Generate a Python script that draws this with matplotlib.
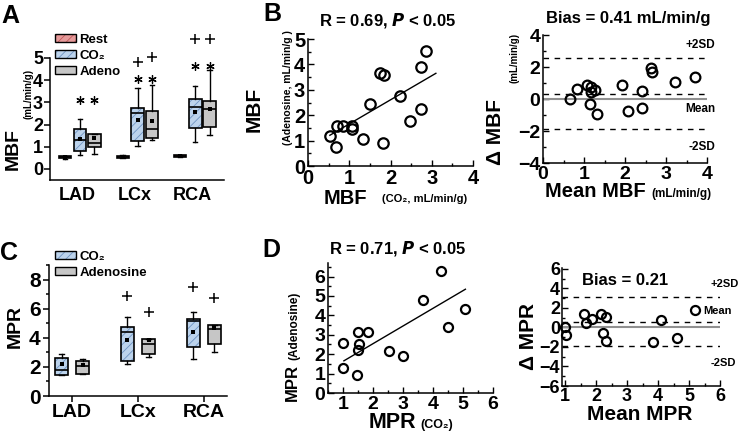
import numpy as np
import matplotlib
matplotlib.use("Agg")
import matplotlib.pyplot as plt
from matplotlib.patches import PathPatch, Patch
from matplotlib.ticker import MultipleLocator

plt.rcParams["font.family"] = ["Liberation Sans", "DejaVu Sans"]
plt.rcParams["font.weight"] = "bold"
plt.rcParams["hatch.linewidth"] = 0.6

# ---------------- data ----------------
regions = ["LAD", "LCx", "RCA"]

# box stats per region: whisker low, Q1, median, Q3, whisker high, mean
mbf_rest = [[0.45, 0.47, 0.52, 0.57, 0.58, 0.52],
            [0.47, 0.50, 0.55, 0.60, 0.62, 0.55],
            [0.52, 0.53, 0.57, 0.61, 0.62, 0.57]]
mbf_co2 = [[0.64, 0.82, 1.31, 1.78, 2.24, 1.36],
           [1.02, 1.25, 2.50, 2.75, 3.65, 2.21],
           [1.23, 1.84, 2.79, 3.13, 3.75, 2.56]]
mbf_aden = [[0.66, 0.98, 1.15, 1.59, 1.59, 1.40],
            [1.32, 1.38, 1.82, 2.60, 3.80, 2.18],
            [1.54, 1.87, 2.68, 3.04, 4.47, 2.72]]
mbf_star = [3.10, 4.05, 4.64]
mbf_plus_co2 = [np.nan, 4.82, 5.85]
mbf_plus_aden = [np.nan, 5.05, 5.85]

mpr_co2 = [[1.47, 1.47, 1.77, 2.63, 2.88, 2.19],
           [2.19, 2.40, 4.42, 4.72, 5.46, 3.85],
           [2.52, 3.39, 5.12, 5.28, 5.77, 4.43]]
mpr_aden = [[1.54, 1.54, 2.05, 2.42, 2.53, 2.12],
            [2.70, 2.88, 3.57, 3.92, 3.92, 3.85],
            [3.02, 3.58, 4.61, 4.89, 4.89, 4.70]]
mpr_plus_co2 = [np.nan, 6.89, 7.47]
mpr_plus_aden = [np.nan, 5.80, 6.73]

# B: MBF correlation
mbf_x = [0.53, 0.68, 0.71, 0.86, 1.06, 1.06, 1.33, 1.51, 1.74, 1.85, 1.81, 2.23, 2.47, 2.73, 2.73, 2.86]
mbf_y = [1.20, 0.75, 1.57, 1.57, 1.57, 1.44, 1.06, 2.44, 3.68, 3.59, 0.91, 2.76, 1.77, 2.23, 3.88, 4.51]
mbf_fit = [0.949, 0.707]          # slope, intercept
mbf_fit_range = [0.53, 3.1]

# B: Bland-Altman MBF
ba_mbf_mean = [0.65, 0.82, 1.08, 1.17, 1.18, 1.14, 1.28, 1.32, 1.92, 2.08, 2.42, 2.42, 2.63, 2.65, 3.22, 3.71]
ba_mbf_diff = [0.02, 0.64, 0.89, 0.73, 0.42, -0.29, 0.54, -0.91, 0.89, -0.77, 0.48, -0.56, 1.93, 1.66, 1.06, 1.37]
ba_mbf_lines = [2.55, 0.33, -1.87]   # +2SD, mean, -2SD

# D: MPR correlation
mpr_x = [1.00, 1.01, 1.48, 1.51, 1.54, 1.50, 1.82, 2.52, 2.99, 3.68, 4.27, 4.50, 5.06]
mpr_y = [2.57, 1.29, 0.91, 3.12, 2.52, 2.20, 3.12, 2.18, 1.89, 4.77, 6.30, 3.40, 4.32]
mpr_fit = [0.911, 0.72]
mpr_fit_range = [1.03, 5.08]

# D: Bland-Altman MPR
ba_mpr_mean = [1.00, 1.03, 1.62, 1.68, 1.86, 2.16, 2.32, 2.22, 2.32, 3.85, 4.10, 4.60, 5.19]
ba_mpr_diff = [0.07, -0.78, 1.36, 0.48, 0.82, 1.43, 1.09, -0.61, -1.36, -1.46, 0.75, -1.05, 1.77]
ba_mpr_lines = [3.13, 0.58, -1.88]

c_rest, h_rest = "#e69a9a", "#c05a5a"
c_co2, h_co2 = "#bcd3ec", "#6f94c2"
c_aden = "#c6c6c6"

# ---------------- helpers ----------------
W, H = 740, 436
fig = plt.figure(figsize=(W / 100, H / 100), dpi=100)


def fx(x):
    return x / W


def fy(y):
    return 1 - y / H


def axes_px(left, top, right, bottom):
    return fig.add_axes([left / W, 1 - bottom / H, (right - left) / W, (bottom - top) / H])


def boxes(ax, rows, pos, width, face, hatch=None, hcol=None):
    st = [dict(whislo=r[0], q1=r[1], med=r[2], q3=r[3], whishi=r[4], mean=r[5], fliers=[]) for r in rows]
    b = ax.bxp(st, positions=pos, widths=width, patch_artist=True, showmeans=True,
               showfliers=False, capwidths=width * 0.35, manage_ticks=False,
               medianprops=dict(color="k", lw=1.2),
               meanprops=dict(marker="s", ms=2.5, mew=0, mfc="k"),
               whiskerprops=dict(color="k", lw=1), capprops=dict(color="k", lw=1),
               boxprops=dict(lw=0))
    for p in b["boxes"]:
        p.set_facecolor(face)
        if hatch:
            p.set_hatch(hatch)
            p.set_edgecolor(hcol)
        ax.add_patch(PathPatch(p.get_path(), fc="none", ec="k", lw=1.2, zorder=2.05))


def legend_handle(face, hatch=None, hcol=None):
    if hatch:
        return (Patch(fc=face, ec=hcol, hatch=hatch, lw=0), Patch(fc="none", ec="k", lw=1))
    return Patch(fc=face, ec="k", lw=1)


def clean(ax):
    ax.spines["top"].set_visible(False)
    ax.spines["right"].set_visible(False)
    for s in ("left", "bottom"):
        ax.spines[s].set_linewidth(1.1)


def bold_ticks(ax):
    for t in ax.get_xticklabels() + ax.get_yticklabels():
        t.set_fontweight("bold")


def vtext(x, y, s, size):
    fig.text(fx(x), fy(y), s, rotation=90, ha="center", va="center", fontsize=size, fontweight="bold")


def htext(x, y, s, size, **kw):
    fig.text(fx(x), fy(y), s, ha="center", va="center", fontsize=size, fontweight="bold", **kw)


grp = np.arange(1, 4)

# ---------------- A ----------------
axA = axes_px(50, 58, 224, 180)
clean(axA)
boxes(axA, mbf_rest, grp - 0.26, 0.21, c_rest, "////", h_rest)
boxes(axA, mbf_co2, grp, 0.22, c_co2, "////", h_co2)
boxes(axA, mbf_aden, grp + 0.25, 0.22, c_aden)
axA.plot(grp, mbf_star, ls="none", marker=(6, 2, 0), ms=6, mew=0.9, color="k", clip_on=False)
axA.plot(grp + 0.25, mbf_star, ls="none", marker=(6, 2, 0), ms=6, mew=0.9, color="k", clip_on=False)
axA.plot(grp, mbf_plus_co2, ls="none", marker="+", ms=7, mew=1.1, color="k", clip_on=False)
axA.plot(grp + 0.25, mbf_plus_aden, ls="none", marker="+", ms=7, mew=1.1, color="k", clip_on=False)
axA.set_xlim(0.48, 3.5)
axA.set_ylim(-0.5, 5)
axA.set_yticks(range(6))
axA.set_xticks(grp - 0.05, regions)
axA.tick_params(axis="x", length=0, pad=5, labelsize=13)
axA.tick_params(axis="y", direction="out", length=4, width=1.1, labelsize=13, pad=1)
bold_ticks(axA)
axA.legend([legend_handle(c_rest, "////", h_rest), legend_handle(c_co2, "////", h_co2),
            legend_handle(c_aden)], ["Rest", "CO₂", "Adeno"],
           loc="upper left", bbox_to_anchor=(fx(55), fy(34)), bbox_transform=fig.transFigure,
           frameon=False, fontsize=9.5, handlelength=1.6, handleheight=0.55,
           handletextpad=0.25, labelspacing=0.3, borderpad=0, borderaxespad=0)
vtext(13, 149, "MBF", 14)
vtext(29, 94, "(mL/min/g)", 7)

# ---------------- B scatter ----------------
axB = axes_px(308, 39, 473, 166)
clean(axB)
axB.plot(mbf_x, mbf_y, "o", mfc="none", mec="k", mew=1.6, ms=7.5, clip_on=False)
fx_b = np.array(mbf_fit_range)
axB.plot(fx_b, np.polyval(mbf_fit, fx_b), color="k", lw=1)
axB.set_xlim(0, 4)
axB.set_ylim(0, 5)
axB.set_xticks(range(5))
axB.set_yticks(range(6))
axB.xaxis.set_minor_locator(MultipleLocator(0.5))
axB.yaxis.set_minor_locator(MultipleLocator(0.5))
axB.tick_params(which="both", direction="in", width=1, labelsize=14.5, pad=2)
axB.tick_params(which="major", length=4)
axB.tick_params(which="minor", length=2)
bold_ticks(axB)
htext(388, 20, "R = 0.69, $\\bfit{P}$ < 0.05", 12)
vtext(254, 109, "MBF", 15)
vtext(288, 88, "(Adenosine, mL/min/g )", 7.5)
htext(345, 198, "MBF", 14.5)
htext(425, 199, "(CO₂, mL/min/g)", 8)

# ---------------- B Bland-Altman ----------------
axC = axes_px(543, 35, 707, 163)
clean(axC)
axC.plot(ba_mbf_mean, ba_mbf_diff, "o", mfc="none", mec="k", mew=1.6, ms=7, zorder=3)
axC.axhline(0, color="#909090", lw=1.5)
for v in ba_mbf_lines:
    axC.axhline(v, color="k", lw=1, ls=(0, (4, 4)))
axC.set_xlim(0, 4)
axC.set_ylim(-4, 4)
axC.set_xticks(range(5))
axC.set_yticks([-4, -2, 0, 2, 4])
axC.xaxis.set_minor_locator(MultipleLocator(0.5))
axC.yaxis.set_minor_locator(MultipleLocator(1))
axC.tick_params(which="both", direction="in", width=1, labelsize=14, pad=2)
axC.tick_params(which="major", length=4)
axC.tick_params(which="minor", length=2)
bold_ticks(axC)
axC.text(4.2, 3.39, "+2SD", ha="right", va="center", fontsize=8.5, clip_on=False)
axC.text(4.2, -0.62, "Mean", ha="right", va="center", fontsize=8.5, clip_on=False)
axC.text(4.2, -3.0, "-2SD", ha="right", va="center", fontsize=8.5, clip_on=False)
htext(628, 19, "Bias = 0.41 mL/min/g", 12)
vtext(495, 132, "Δ MBF", 15)
vtext(514, 58, "(mL/min/g)", 7)
htext(595, 191, "Mean MBF", 14.5)
htext(681, 194, "(mL/min/g)", 8.5)

# ---------------- C ----------------
axD = axes_px(49, 265, 227, 396)
clean(axD)
boxes(axD, mpr_co2, grp - 0.16, 0.2, c_co2, "////", h_co2)
boxes(axD, mpr_aden, grp + 0.16, 0.2, c_aden)
axD.plot(grp - 0.16, mpr_plus_co2, ls="none", marker="+", ms=7, mew=1.1, color="k", clip_on=False)
axD.plot(grp + 0.16, mpr_plus_aden, ls="none", marker="+", ms=7, mew=1.1, color="k", clip_on=False)
axD.set_xlim(0.65, 3.35)
axD.set_ylim(0, 9)
axD.set_yticks([0, 2, 4, 6, 8])
axD.yaxis.set_minor_locator(MultipleLocator(1))
axD.set_xticks(grp, regions)
axD.tick_params(which="both", direction="out", width=1.1, labelsize=15, pad=2)
axD.tick_params(which="major", length=4)
axD.tick_params(which="minor", length=2)
axD.tick_params(axis="x", labelsize=14)
bold_ticks(axD)
axD.legend([legend_handle(c_co2, "////", h_co2), legend_handle(c_aden)], ["CO₂", "Adenosine"],
           loc="upper left", bbox_to_anchor=(fx(55), fy(251)), bbox_transform=fig.transFigure,
           frameon=False, fontsize=9.5, handlelength=1.6, handleheight=0.55,
           handletextpad=0.25, labelspacing=0.3, borderpad=0, borderaxespad=0)
vtext(15, 326, "MPR", 14)

# ---------------- D scatter ----------------
axE = axes_px(328, 263, 493, 393)
clean(axE)
axE.plot(mpr_x, mpr_y, "o", mfc="none", mec="k", mew=1.6, ms=6.5, clip_on=False)
fx_d = np.array(mpr_fit_range)
axE.plot(fx_d, np.polyval(mpr_fit, fx_d), color="k", lw=1)
axE.set_xlim(0.5, 6)
axE.set_ylim(0, 6.7)
axE.set_xticks(range(1, 7))
axE.set_yticks(range(7))
axE.xaxis.set_minor_locator(MultipleLocator(0.5))
axE.yaxis.set_minor_locator(MultipleLocator(0.5))
axE.tick_params(which="both", direction="in", width=1, labelsize=14, pad=2)
axE.tick_params(which="major", length=4)
axE.tick_params(which="minor", length=2)
bold_ticks(axE)
htext(398, 248, "R = 0.71, $\\bfit{P}$ < 0.05", 12)
vtext(292, 382, "MPR", 12)
vtext(294, 326, "(Adenosine)", 8.5)
htext(392, 422, "MPR", 15.5)
htext(437, 425, "(CO₂)", 9)

# ---------------- D Bland-Altman ----------------
axF = axes_px(562, 268, 720, 386)
clean(axF)
axF.plot(ba_mpr_mean, ba_mpr_diff, "o", mfc="none", mec="k", mew=1.6, ms=6.5, zorder=3, clip_on=False)
axF.axhline(0, color="#909090", lw=1.5)
for v in ba_mpr_lines:
    axF.axhline(v, color="k", lw=1, ls=(0, (4, 4)))
axF.set_xlim(0.9, 6)
axF.set_ylim(-6, 6.1)
axF.set_xticks(range(1, 7))
axF.set_yticks(range(-6, 7, 2))
axF.xaxis.set_minor_locator(MultipleLocator(0.5))
axF.yaxis.set_minor_locator(MultipleLocator(1))
axF.tick_params(which="both", direction="in", width=1, labelsize=13, pad=1.5)
axF.tick_params(which="major", length=4)
axF.tick_params(which="minor", length=2)
bold_ticks(axF)
axF.text(5.7, 4.42, "+2SD", ha="left", va="center", fontsize=8, clip_on=False)
axF.text(5.46, 1.67, "Mean", ha="left", va="center", fontsize=8, clip_on=False)
axF.text(5.7, -3.67, "-2SD", ha="left", va="center", fontsize=8, clip_on=False)
axF.text(2.94, 4.83, "Bias = 0.21", ha="center", va="center", fontsize=12)
vtext(529, 337, "Δ MPR", 15)
htext(640, 414, "Mean MPR", 15)

# panel letters
for lx, ly, s in [(10, 16, "A"), (272, 14, "B"), (9, 253, "C"), (271, 250, "D")]:
    htext(lx, ly, s, 18)

fig.savefig("out.png", dpi=100)
